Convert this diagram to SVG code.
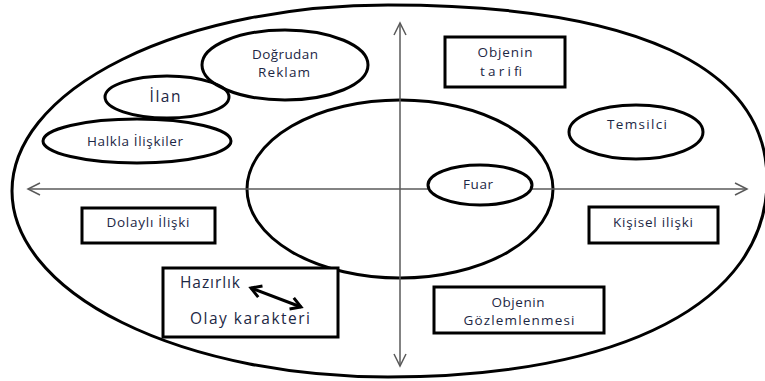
<svg xmlns="http://www.w3.org/2000/svg" width="765" height="381" viewBox="0 0 765 381">
<style>
.shape{fill:none;stroke:#000;stroke-width:3}
.box{fill:#fff;stroke:#000;stroke-width:3}
.axis{fill:none;stroke:#5a5a5a;stroke-width:1.5}
.t{font-family:"Open Sans","Liberation Sans",sans-serif;font-size:13.5px;fill:#1c2744;text-anchor:middle}
.tb{font-family:"Open Sans","Liberation Sans",sans-serif;font-size:15.5px;fill:#1c2744}
</style>
<defs>
<marker id="open" markerUnits="userSpaceOnUse" markerWidth="16" markerHeight="16" viewBox="0 0 16 16" refX="14" refY="8" orient="auto-start-reverse">
<path d="M2,2 L14,8 L2,14" fill="none" stroke="#5a5a5a" stroke-width="1.5"/>
</marker>
<marker id="thick" markerUnits="userSpaceOnUse" markerWidth="16" markerHeight="16" viewBox="0 0 16 16" refX="13" refY="8" orient="auto-start-reverse">
<path d="M3,2 L13,8 L3,14" fill="none" stroke="#000" stroke-width="3"/>
</marker>
</defs>
<rect width="765" height="381" fill="#fff"/>
<g id="outer">
<path class="shape" d="M388,5 A376,186 0 0 0 388,377 C622,377 767,302 767,180 C767,66 634,5 388,5 Z"/>
</g>
<g id="inner-circle">
<ellipse class="shape" cx="400" cy="189" rx="153" ry="89"/>
</g>
<g id="axes">
<line class="axis" x1="28" y1="189" x2="747" y2="189" marker-start="url(#open)" marker-end="url(#open)"/>
<line class="axis" x1="400" y1="23" x2="400" y2="366" marker-start="url(#open)" marker-end="url(#open)"/>
</g>
<g id="fuar">
<ellipse class="box" cx="480" cy="185" rx="52" ry="20"/>
<text class="t" x="478" y="189" textLength="30" lengthAdjust="spacing">Fuar</text>
</g>
<g id="dogrudan-reklam">
<ellipse class="shape" cx="285" cy="65" rx="83" ry="35"/>
<text class="t" x="285" y="59" textLength="66" lengthAdjust="spacing">Doğrudan</text>
<text class="t" x="284" y="77" textLength="52" lengthAdjust="spacing">Reklam</text>
</g>
<g id="ilan">
<ellipse class="shape" cx="167" cy="97" rx="62" ry="21"/>
<text class="t" x="165" y="102" style="font-size:15.5px" textLength="31" lengthAdjust="spacing">İlan</text>
</g>
<g id="halkla">
<ellipse class="shape" cx="137" cy="141" rx="94" ry="22"/>
<text class="t" x="135" y="146" textLength="96" lengthAdjust="spacing">Halkla İlişkiler</text>
</g>
<g id="objenin-tarifi">
<rect class="box" x="445" y="37" width="120" height="50"/>
<text class="t" x="505" y="57" textLength="55" lengthAdjust="spacing">Objenin</text>
<text class="t" x="501" y="76" textLength="42" lengthAdjust="spacing">tarifi</text>
</g>
<g id="temsilci">
<ellipse class="shape" cx="636" cy="132" rx="67" ry="27"/>
<text class="t" x="637" y="129" textLength="60" lengthAdjust="spacing">Temsilci</text>
</g>
<g id="dolayli">
<rect class="box" x="82" y="208" width="133" height="35"/>
<text class="t" x="148" y="227" textLength="83" lengthAdjust="spacing">Dolaylı İlişki</text>
</g>
<g id="kisisel">
<rect class="box" x="589" y="207" width="129" height="36"/>
<text class="t" x="653" y="227" textLength="80" lengthAdjust="spacing">Kişisel ilişki</text>
</g>
<g id="objenin-gozlem">
<rect class="box" x="434" y="287" width="170" height="46"/>
<text class="t" x="518" y="307" textLength="53" lengthAdjust="spacing">Objenin</text>
<text class="t" x="519" y="325" textLength="111" lengthAdjust="spacing">Gözlemlenmesi</text>
</g>
<g id="hazirlik">
<rect class="box" x="163" y="268" width="175" height="69"/>
<text class="tb" x="180" y="288" textLength="60" lengthAdjust="spacing">Hazırlık</text>
<text class="tb" x="190" y="324" textLength="120" lengthAdjust="spacing">Olay karakteri</text>
</g>
<g id="connectors">
<line x1="251" y1="288" x2="301" y2="307" stroke="#000" stroke-width="3" marker-start="url(#thick)" marker-end="url(#thick)"/>
</g>
</svg>
